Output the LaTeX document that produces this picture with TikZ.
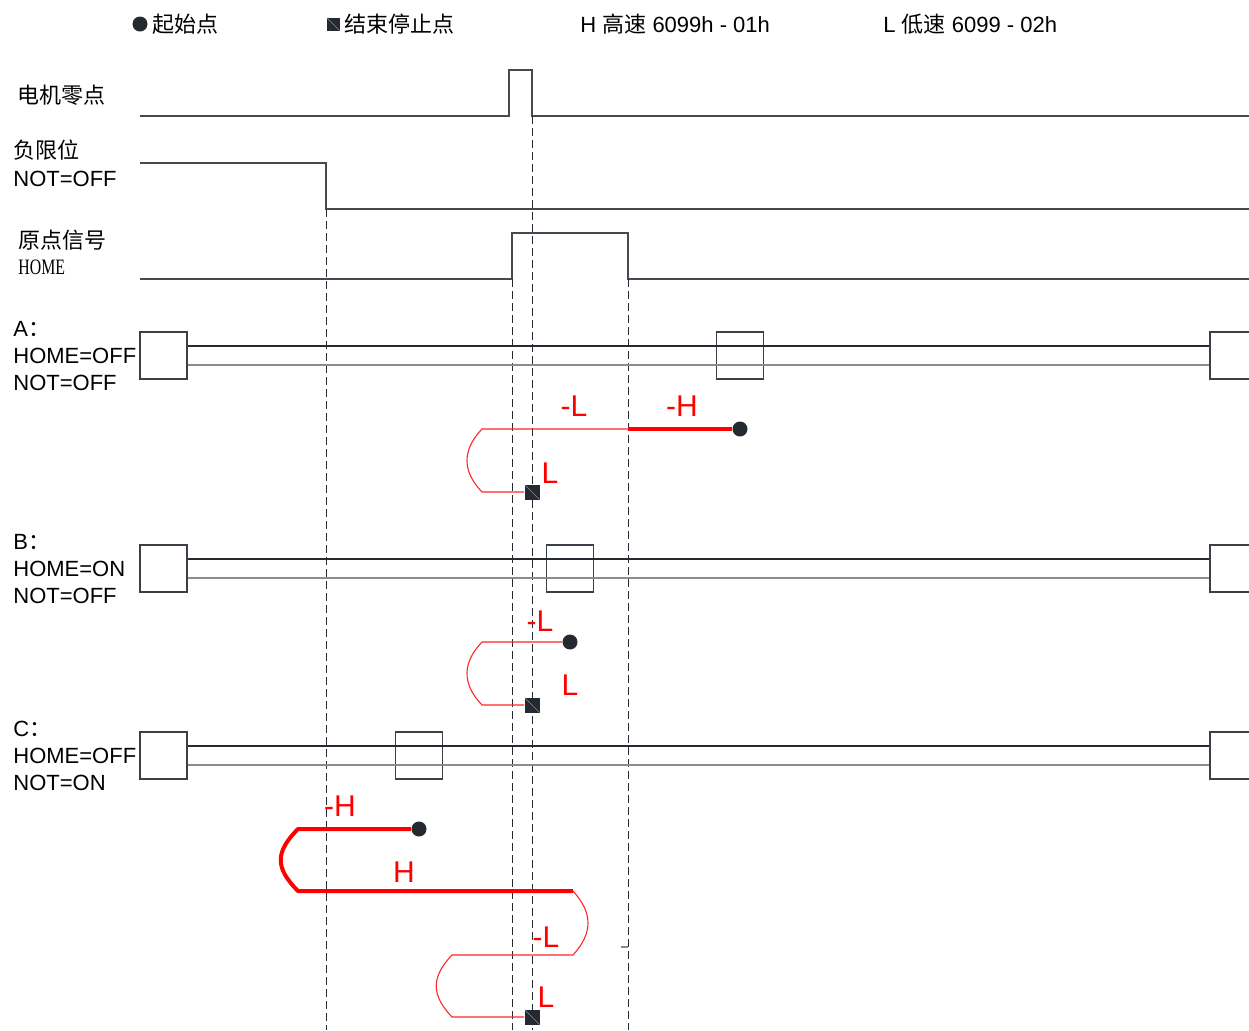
\documentclass[tikz,border=0pt]{standalone}
\usepackage{fontspec}
\setmainfont{Liberation Sans}
\newfontfamily\cjk{Noto Sans CJK SC}
\newfontfamily\narrowserif[FakeStretch=0.72]{Liberation Serif}
\usetikzlibrary{positioning}

\definecolor{inkdark}{HTML}{252A31}
\definecolor{inkgrey}{HTML}{8A8C8F}
\definecolor{pathred}{HTML}{FF0000}

\begin{document}
\begin{tikzpicture}[
    x=0.5pt, y=-0.5pt,
    lbl/.style={font=\fontsize{11}{13}\selectfont, inner sep=0pt, anchor=west},
    redlbl/.style={font=\fontsize{15}{17}\selectfont, text=pathred, inner sep=0pt},
    sig/.style={draw=inkdark!85, line width=0.7pt},
    guide/.style={draw=inkdark, dash pattern=on 4pt off 2pt, line width=0.5pt},
    trkhi/.style={draw=inkdark, line width=0.6pt},
    trklo/.style={draw=inkgrey, line width=0.8pt},
    tbox/.style={draw=inkdark!90, line width=0.7pt, minimum size=23.5pt, inner sep=0pt},
    fast/.style={draw=pathred, line width=2pt, line join=round},
    slow/.style={draw=pathred!85, line width=0.55pt},
    startdot/.style={circle, fill=inkdark, minimum size=7.5pt, inner sep=0pt},
    stopsq/.style={rectangle, fill=inkdark, minimum size=7.5pt, inner sep=0pt,
      path picture={\draw[inkgrey, line width=0.3pt]
        (path picture bounding box.north west) -- (path picture bounding box.south east);}},
]
    \useasboundingbox (0,0) rectangle (1249,1030);

    % legend
    \node [startdot] (keystart) at (140,24) {};
    \node [lbl, right=2pt of keystart] (keystarttxt) {\cjk 起始点};
    \node [stopsq, minimum size=6.5pt] (keystop) at (333,24) {};
    \node [lbl, right=2pt of keystop] (keystoptxt) {\cjk 结束停止点};
    \node [lbl] (keyhigh) at (580,24) {H {\cjk 高速} 6099h - 01h};
    \node [lbl] (keylow) at (883,24) {L {\cjk 低速} 6099 - 02h};

    % input signals
    \node [lbl] (motorzero) at (17,95) {\cjk 电机零点};
    \node [lbl] (neglimit) at (13,150) {\cjk 负限位};
    \node [lbl] (neglimitnot) at (13,179) {NOT=OFF};
    \node [lbl] (homesig) at (18,240) {\cjk 原点信号};
    \node [lbl] (homesigen) at (18,267) {\narrowserif HOME};

    \draw [sig] (140,116) -- (509,116) -- (509,70) -- (532,70) -- (532,116) -- (1249,116);
    \draw [sig] (140,163) -- (326,163) -- (326,209) -- (1249,209);
    \draw [sig] (140,279) -- (512,279) -- (512,233) -- (628,233) -- (628,279) -- (1249,279);

    % guides
    \draw [guide] (326,209) -- (326,1030);
    \draw [guide] (512,279) -- (512,1030);
    \draw [guide] (532,116) -- (532,1030);
    \draw [guide] (628,279) -- (628,1030);
    \draw [inkgrey, line width=0.6pt] (621,947) -- (628,947);

    % tracks
    \foreach \n/\y/\mx/\tag/\hm/\nt in {a/355.5/740/A/OFF/OFF, b/568.5/570/B/ON/OFF, c/755.5/419/C/OFF/ON}{
        \node [tbox] (\n0) at (163.5,\y) {};
        \node [tbox] (\n1) at (\mx,\y) {};
        \coordinate (\n2) at (1210,\y);
        \draw [trkhi] ([yshift=4.75pt]\n0.east) -- ([yshift=4.75pt]\n2);
        \draw [trklo] ([yshift=-4.75pt]\n0.east) -- ([yshift=-4.75pt]\n2);
        \draw [tbox] ([yshift=11.75pt]\n2) ++(45,0) -| ([yshift=-11.75pt]\n2) -- ++(45,0);
        \node [lbl] (\n lbl) at (13,\y) {HOME=\hm};
        \node [lbl] (\n tag) at (13,{\y-27}) {\tag{\cjk ：}};
        \node [lbl] (\n not) at (13,{\y+27}) {NOT=\nt};
    }

    % case A
    \node [startdot] (astart) at (740,429) {};
    \node [stopsq] (astop) at (532,492) {};
    \coordinate (aslow) at (628,429);
    \draw [fast] (astart) -- (aslow);
    \draw [slow] (aslow) -- (482,429) .. controls (462,450) and (462,471) .. (482,492) -- (astop);
    \node [redlbl] (alabl) at (574,406) {-L};
    \node [redlbl] (alabh) at (682,406) {-H};
    \node [redlbl] (alabs) at (550,473) {L};

    % case B
    \node [startdot] (bstart) at (570,642) {};
    \node [stopsq] (bstop) at (532,705) {};
    \draw [slow] (bstart) -- (482,642) .. controls (462,663) and (462,684) .. (482,705) -- (bstop);
    \node [redlbl] (blabl) at (540,621) {-L};
    \node [redlbl] (blabs) at (570,685) {L};

    % case C
    \node [startdot] (cstart) at (419,829) {};
    \node [stopsq] (cstop) at (532,1017) {};
    \coordinate (cturn) at (573,891);
    \draw [fast] (cstart) -- (298,829) .. controls (275,852) and (275,868) .. (298,891) -- (cturn);
    \draw [slow] (cturn) .. controls (593,913) and (593,933) .. (573,955) -- (452,955)
        .. controls (431,977) and (431,995) .. (452,1017) -- (cstop);
    \node [redlbl] (clabh) at (340,806) {-H};
    \node [redlbl] (clabfast) at (404,872) {H};
    \node [redlbl] (clabl) at (546,937) {-L};
    \node [redlbl] (clabs) at (546,997) {L};
\end{tikzpicture}
\end{document}
